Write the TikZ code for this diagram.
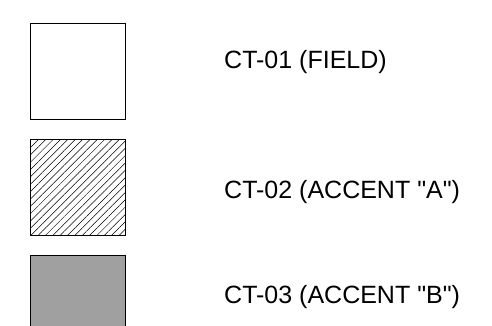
\documentclass[tikz,border=0pt]{standalone}
\usepackage{fontspec}
\setmainfont{Liberation Sans}
\usetikzlibrary{patterns.meta}

\begin{document}
\begin{tikzpicture}[x=1pt,y=-1pt,
        swatch/.style={draw,line width=0.8pt,inner sep=0pt,minimum width=95pt,minimum height=96pt},
        code/.style={anchor=base west,inner sep=0pt,font=\fontsize{25}{29}\selectfont}]
        \useasboundingbox (0,0) rectangle (492,325);

        \node[swatch,fill=white] (field) at (78,71) {};
        \node[swatch,pattern={Lines[angle=45,distance=5.2pt,line width=0.5pt]}] (accA) at (78,187.5) {};
        \node[swatch,fill={rgb,255:red,160;green,160;blue,160}] (accB) at (78,303) {};

        \node[code] (lblF) at (224,68) {CT-01 (FIELD)};
        \node[code] (lblA) at (224,198) {CT-02 (ACCENT \textquotedbl A\textquotedbl)};
        \node[code] (lblB) at (224,303) {CT-03 (ACCENT \textquotedbl B\textquotedbl)};
    \end{tikzpicture}
\end{document}
